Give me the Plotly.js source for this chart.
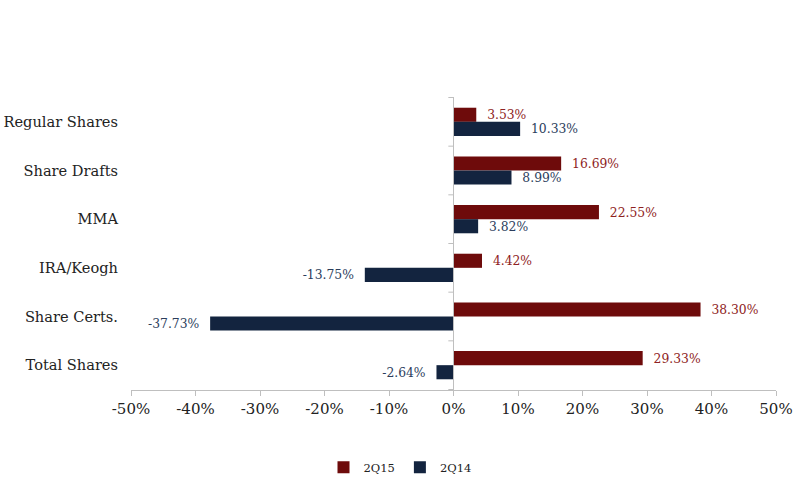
<!DOCTYPE html>
<html>
<head>
<meta charset="utf-8">
<script src="https://cdn.plot.ly/plotly-3.0.1.min.js"></script>
<style>html,body{margin:0;padding:0;background:#fff;}#chart{width:800px;height:493px;}</style>
</head>
<body>
<div id="chart"></div>
<script>
const categories = ['Regular Shares', 'Share Drafts', 'MMA', 'IRA/Keogh', 'Share Certs.', 'Total Shares'];
const q15 = [3.53, 16.69, 22.55, 4.42, 38.30, 29.33];
const q14 = [10.33, 8.99, 3.82, -13.75, -37.73, -2.64];
const seriesNames = ['2Q15', '2Q14'];
const xTickVals = [-50, -40, -30, -20, -10, 0, 10, 20, 30, 40, 50];
const xTickText = ['-50%', '-40%', '-30%', '-20%', '-10%', '0%', '10%', '20%', '30%', '40%', '50%'];

const FONT = 'DejaVu Serif, Liberation Serif, serif';
const RED = '#6E0B0B', NAVY = '#13243F';
const RED_TXT = '#8E2222', NAVY_TXT = '#2B3D5C';
const AXIS = '#BFBFBF';
const pad = '\u00a0\u00a0';
const lbl = arr => arr.map(v => pad + v.toFixed(2) + '%' + pad);

const traces = [
  {type: 'bar', orientation: 'h', name: seriesNames[0], y: categories, x: q15,
   marker: {color: RED}, text: lbl(q15), textposition: 'outside', cliponaxis: false,
   textfont: {family: FONT, size: 14, color: RED_TXT}, hoverinfo: 'none'},
  {type: 'bar', orientation: 'h', name: seriesNames[1], y: categories, x: q14,
   marker: {color: NAVY}, text: lbl(q14), textposition: 'outside', cliponaxis: false,
   textfont: {family: FONT, size: 14, color: NAVY_TXT}, hoverinfo: 'none'}
];

const shapes = [{type: 'line', xref: 'x', yref: 'paper', x0: 0, x1: 0, y0: 0, y1: 1,
                 line: {color: AXIS, width: 1}}];
for (let i = 0; i <= categories.length; i++) {
  shapes.push({type: 'line', xref: 'x', yref: 'y', x0: -0.8, x1: 0, y0: i - 0.5, y1: i - 0.5,
               line: {color: AXIS, width: 1}});
}

const layout = {
  width: 800, height: 493,
  margin: {l: 131, r: 24, t: 97, b: 103},
  paper_bgcolor: '#fff', plot_bgcolor: '#fff',
  barmode: 'group', bargap: 0.42, bargroupgap: 0,
  showlegend: true,
  legend: {orientation: 'h', xref: 'container', x: 0.5, xanchor: 'center',
           yref: 'container', y: 0.052, yanchor: 'middle',
           font: {family: FONT, size: 11.5, color: '#222'}, itemwidth: 30, traceorder: 'normal'},
  xaxis: {range: [-50, 50], tickmode: 'array', tickvals: xTickVals, ticktext: xTickText,
          showgrid: false, zeroline: false,
          showline: true, linecolor: AXIS, linewidth: 1, ticks: 'outside', ticklen: 5, tickcolor: AXIS,
          tickfont: {family: FONT, size: 15, color: '#222'}, fixedrange: true},
  yaxis: {type: 'category', autorange: 'reversed', showgrid: false, zeroline: false, showline: false,
          ticks: '', ticklabelstandoff: 12,
          tickfont: {family: FONT, size: 14.6, color: '#222'}, fixedrange: true},
  shapes: shapes,
  font: {family: FONT}
};

Plotly.newPlot('chart', traces, layout, {displayModeBar: false, staticPlot: true});
</script>
</body>
</html>
